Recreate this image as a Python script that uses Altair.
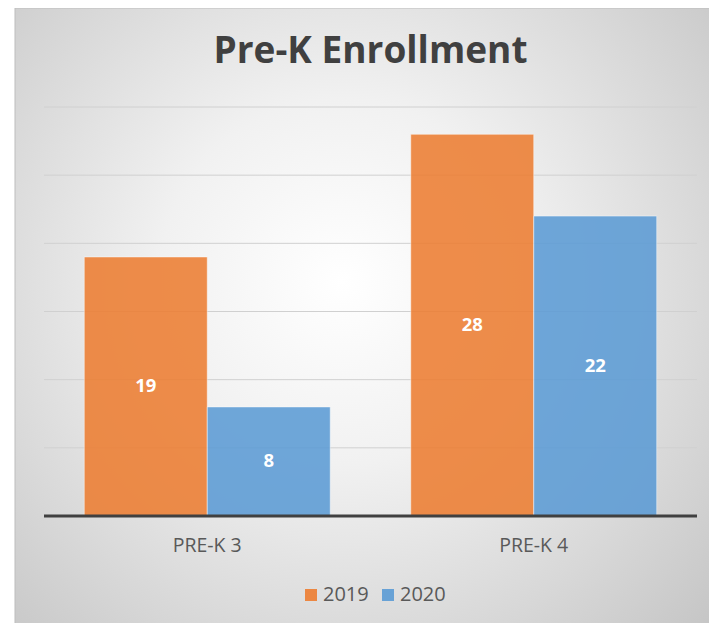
import altair as alt
import pandas as pd

# ---- data ----
categories = ["PRE-K 3", "PRE-K 3", "PRE-K 4", "PRE-K 4"]
years = ["2019", "2020", "2019", "2020"]
values = [19, 8, 28, 22]
year_order = ["2019", "2020"]
colors = ["#ED7D31", "#5B9BD5"]
grid_values = [5, 10, 15, 20, 25, 30]
title_text = ["Pre-K Enrollment"]

W, H = 653, 409
PAD = {"left": 36, "top": 99, "right": 12, "bottom": 107}

df = pd.DataFrame({"category": categories, "year": years, "value": values})

yscale = alt.Scale(domain=[0, 30], nice=False, zero=True)
xscale = alt.Scale(paddingInner=0.2466, paddingOuter=0.1233)
offscale = alt.Scale(domain=year_order, paddingInner=0, paddingOuter=0)

bg = alt.Chart(pd.DataFrame({"k": [0]})).mark_rect(
    fill=alt.RadialGradient(
        gradient="radial", x1=0.47, y1=0.45, r1=0, x2=0.47, y2=0.45, r2=0.75,
        stops=[
            alt.GradientStop(offset=0, color="#ffffff"),
            alt.GradientStop(offset=0.35, color="#f1f1f1"),
            alt.GradientStop(offset=1, color="#c3c3c3"),
        ],
    ),
    stroke="#bdbdbd", strokeWidth=1,
).encode(x=alt.value(-29), x2=alt.value(W + PAD["right"] + 2),
         y=alt.value(-99), y2=alt.value(H + PAD["bottom"] + 2))

grid = alt.Chart(pd.DataFrame({"g": grid_values})).mark_rule(
    color="#d0d0d0", strokeWidth=1
).encode(y=alt.Y("g:Q", scale=yscale, axis=None))

bars = alt.Chart(df).mark_bar(
    opacity=0.87, stroke="#ffffff", strokeOpacity=0.5, strokeWidth=1
).encode(
    x=alt.X("category:N", scale=xscale, title=None,
            axis=alt.Axis(labelAngle=0, ticks=False, domain=False, labelFont="Open Sans",
                          labelFontSize=19.5, labelColor="#595959", labelPadding=20, zindex=1)),
    xOffset=alt.XOffset("year:N", scale=offscale),
    y=alt.Y("value:Q", scale=yscale, axis=None),
    color=alt.Color("year:N", scale=alt.Scale(domain=year_order, range=colors),
                    legend=alt.Legend(title=None, orient="none", legendX=257, legendY=478,
                                      direction="horizontal", symbolType="square", symbolSize=144,
                                      symbolStrokeWidth=0, labelFont="Open Sans", labelFontSize=20,
                                      labelColor="#595959", labelOffset=2, columnPadding=9,
                                      padding=0, symbolOpacity=0.9)),
)

labels = alt.Chart(df).transform_calculate(mid="datum.value / 2").mark_text(
    font="Open Sans", fontSize=18.5, fontWeight="bold", color="#ffffff", baseline="middle"
).encode(
    x=alt.X("category:N", scale=xscale),
    xOffset=alt.XOffset("year:N", scale=offscale),
    y=alt.Y("mid:Q", scale=yscale, axis=None),
    text=alt.Text("value:Q"),
)

base = alt.Chart(pd.DataFrame({"b": [0]})).mark_rule(color="#404040", strokeWidth=3).encode(
    y=alt.Y("b:Q", scale=yscale, axis=None)
)

title = alt.Chart(pd.DataFrame({"t": title_text})).mark_text(
    font="Open Sans", fontSize=37, fontWeight="bold", color="#404040", baseline="alphabetic", align="center"
).encode(x=alt.value(W / 2), y=alt.value(-44), text="t:N")

chart = alt.layer(bg, grid, bars, labels, base, title).properties(
    width=W, height=H,
    autosize=alt.AutoSizeParams(type="none"),
    padding=PAD,
    background="white",
).configure_view(stroke=None)

chart.save("out.html", embed_options={"renderer": "svg", "actions": False})
